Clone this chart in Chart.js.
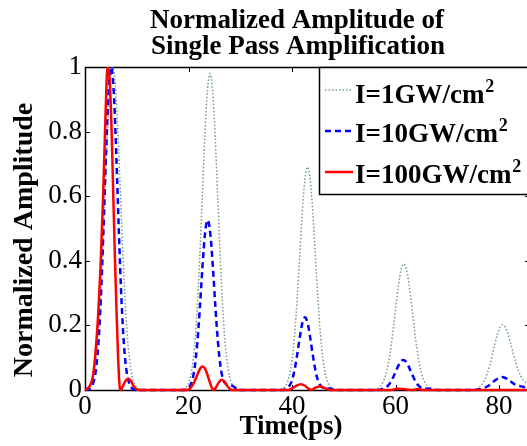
<!DOCTYPE html>
<html><head><meta charset="utf-8">
<script src="https://cdn.jsdelivr.net/npm/chart.js@4/dist/chart.umd.min.js"></script>
<style>html,body{margin:0;padding:0;background:#fff;}#wrap{width:527px;height:446px;position:relative;}</style>
</head><body><div id="wrap"><canvas id="c" width="527" height="446"></canvas></div>
<script>
const xTicks = [0, 20, 40, 60, 80];
const yTicks = [0, 0.2, 0.4, 0.6, 0.8, 1];
const xMax = 85.4;
const seriesNames = ['I=1GW/cm', 'I=10GW/cm', 'I=100GW/cm'];

const grayT = [0,0.5,
 0.85,1.35,1.85,2.35,2.85,3.35,3.85,4.35,4.85,5.35,5.85,6.35,6.85,7.35,7.85,8.35,8.85,9.35,9.85,
 10.5,11.5,18.5,19.15,
 19.65,20.15,20.65,21.15,21.65,22.15,22.65,23.15,23.65,24.15,24.65,25.15,25.65,26.15,26.65,27.15,27.65,28.15,28.65,
 29.3,30.2,37.5,38.0,
 38.5,39,39.5,40,40.5,41,41.5,42,42.5,43,43.5,44,44.5,45,45.5,46,46.5,47,47.5,
 48.2,49,55.3,55.6,
 56.1,56.6,57.1,57.6,58.1,58.6,59.1,59.6,60.1,60.6,61.1,61.6,62.1,62.6,63.1,63.6,64.1,64.6,65.1,65.6,66.1,66.6,67.1,
 67.8,74.5,75.2,
 75.7,76.2,76.7,77.2,77.7,78.2,78.7,79.2,79.7,80.2,80.7,81.2,81.7,82.2,82.7,83.2,83.7,84.2,84.7,85.4];
const grayY = [0,0.002,
 .011,.029,.066,.135,.249,.411,.607,.801,.946,1,.946,.801,.607,.411,.249,.135,.066,.029,.011,
 .003,0,0,.004,
 .011,.028,.065,.132,.244,.403,.595,.785,.927,.98,.927,.785,.595,.403,.244,.132,.065,.028,.011,
 .003,0,0,.003,
 .008,.020,.046,.093,.171,.283,.419,.553,.653,.69,.653,.553,.419,.283,.171,.093,.046,.020,.008,
 .002,0,0,.001,
 .002,.005,.012,.025,.047,.082,.132,.195,.264,.328,.374,.39,.374,.328,.264,.195,.132,.082,.047,.025,.012,.005,.002,
 0,0,.002,
 .004,.009,.017,.031,.050,.077,.109,.143,.173,.194,.202,.194,.175,.147,.116,.087,.062,.043,.030,.020];

const blueT = [0,0.5,
 1.05,1.55,2.05,2.55,3.05,3.55,4.05,4.55,5.05,5.55,6.05,6.55,7.05,7.55,8.05,8.55,9.05,
 9.6,10.5,19.0,
 19.7,20.2,20.7,21.2,21.7,22.2,22.7,23.2,23.7,24.2,24.7,25.2,25.7,26.2,26.7,27.2,27.7,
 28.2,28.7,29.2,29.7,30.3,38.0,
 38.5,39,39.5,40,40.5,41,41.5,42,42.5,43,43.5,44,44.5,45,45.5,46,46.5,
 47.0,47.6,48.3,49,56.3,
 57,57.5,58,58.5,59,59.5,60,60.5,61,61.5,62,62.5,63,63.5,64,64.5,65,65.5,66,
 66.6,67.2,67.8,68.5,75.0,
 75.6,76.1,76.6,77.1,77.6,78.1,78.6,79.1,79.6,80.1,80.6,81.1,81.6,82.1,82.6,83.1,83.6,84.1,84.6,85.4];
const blueY = [0,0.001,
 .006,.020,.056,.135,.278,.487,.726,.923,1,.923,.726,.487,.278,.135,.056,.020,.006,
 .001,0,0,
 .003,.011,.029,.071,.146,.256,.382,.486,.526,.486,.382,.256,.146,.071,.032,.019,.016,
 .015,.011,.005,.001,0,0,
 .001,.005,.013,.030,.063,.110,.163,.208,.225,.208,.163,.110,.063,.030,.014,.007,.005,
 .005,.004,.001,0,0,
 .001,.003,.006,.013,.023,.038,.056,.074,.088,.093,.088,.074,.056,.038,.023,.013,.007,.005,.004,
 .004,.003,.001,0,0,
 .001,.002,.003,.006,.010,.015,.022,.028,.034,.038,.040,.038,.034,.028,.022,.017,.014,.012,.010,.008];

const redT = [0,0.5,1.0,1.5,2.0,2.5,3.0,3.5,4.0,4.35,4.8,5.2,5.5,5.8,6.1,6.4,6.7,6.9,7.4,7.9,8.4,8.9,9.4,9.9,10.4,
 19.7,20.2,20.7,21.2,21.7,22.2,22.7,23.2,23.7,24.2,24.6,24.9,25.3,25.8,26.4,27.0,27.5,28.0,28.4,
 39.3,40,40.7,41.7,42.5,43.2,43.7,44.5,45.4,46.3,47.1,47.6,
 59,60.3,61.5,62.5,63.3,64.3,65.3,85.4];
const redY = [0,.005,.015,.04,.11,.22,.38,.60,.87,1.0,.95,.77,.58,.40,.24,.10,.01,0,.015,.03,.035,.027,.012,.003,0,
 0,.004,.013,.028,.047,.065,.073,.066,.045,.02,.004,0,.008,.022,.032,.025,.012,.003,0,
 0,.005,.012,.018,.013,.004,0,.007,.011,.006,.001,0,
 0,.004,.003,.001,0,.003,0,0];

function pts(T, Y) { return T.map((t, i) => ({x: t, y: Y[i]})); }

const SERIF = '"Liberation Serif", "Times New Roman", Times, serif';
const CLIP = {left: 1, top: 0, right: 0, bottom: 3};

const frame = {
  id: 'frame',
  beforeDatasetsDraw(chart) {
    const ctx = chart.ctx;
    const a = chart.chartArea;
    const xs = chart.scales.x, ys = chart.scales.y;
    ctx.save();
    ctx.strokeStyle = '#000';
    ctx.lineWidth = 1.5;
    ctx.beginPath();
    ctx.moveTo(a.right + 5, a.top + 0.5); ctx.lineTo(a.left + 0.5, a.top + 0.5);
    ctx.lineTo(a.left + 0.5, a.bottom + 0.5); ctx.lineTo(a.right + 5, a.bottom + 0.5);
    ctx.stroke();
    ctx.lineWidth = 1;
    ctx.beginPath();
    xTicks.forEach(v => {
      const px = Math.round(xs.getPixelForValue(v)) + 0.5;
      ctx.moveTo(px, a.bottom); ctx.lineTo(px, a.bottom - 5);
      ctx.moveTo(px, a.top); ctx.lineTo(px, a.top + 5);
    });
    yTicks.forEach(v => {
      const py = Math.round(ys.getPixelForValue(v)) + 0.5;
      ctx.moveTo(a.left, py); ctx.lineTo(a.left + 5, py);
      ctx.moveTo(a.right + 3, py); ctx.lineTo(a.right - 2, py);
    });
    ctx.stroke();
    ctx.restore();
  }
};

const decor = {
  id: 'decor',
  afterDraw(chart) {
    const ctx = chart.ctx;
    ctx.save();
    ctx.fillStyle = '#000';
    ctx.font = 'bold 27px ' + SERIF;
    ctx.textAlign = 'center';
    ctx.textBaseline = 'alphabetic';
    ctx.fillText('Normalized Amplitude of', 297, 28);
    ctx.fillText('Single Pass Amplification', 298, 54);
    ctx.fillText('Time(ps)', 291, 434);
    ctx.save();
    ctx.translate(32, 240);
    ctx.rotate(-Math.PI / 2);
    ctx.font = 'bold 28px ' + SERIF;
    ctx.fillText('Normalized Amplitude', 0, 0);
    ctx.restore();

    // legend
    ctx.fillStyle = '#fff';
    ctx.fillRect(319, 67, 215, 127);
    ctx.strokeStyle = '#000';
    ctx.lineWidth = 1.5;
    ctx.strokeRect(319.5, 67.5, 215, 127);
    const rows = [
      {y: 90, base: 103, ds: chart.data.datasets[2], name: seriesNames[0]},
      {y: 131, base: 142, ds: chart.data.datasets[1], name: seriesNames[1]},
      {y: 172, base: 183, ds: chart.data.datasets[0], name: seriesNames[2]}
    ];
    rows.forEach(r => {
      ctx.save();
      ctx.strokeStyle = r.ds.borderColor;
      ctx.lineWidth = r.ds.borderWidth;
      ctx.setLineDash(r.ds.borderDash || []);
      ctx.beginPath(); ctx.moveTo(325, r.y); ctx.lineTo(353, r.y); ctx.stroke();
      ctx.restore();
      ctx.fillStyle = '#000';
      ctx.textAlign = 'left';
      ctx.font = 'bold 27px ' + SERIF;
      ctx.fillText(r.name, 355, r.base);
      const w = ctx.measureText(r.name).width;
      ctx.font = 'bold 18px ' + SERIF;
      ctx.fillText('2', 355 + w + 1, r.base - 11);
    });
    ctx.restore();
  }
};

new Chart(document.getElementById('c'), {
  type: 'line',
  data: {
    datasets: [
      {label: seriesNames[2], data: pts(redT, redY), borderColor: '#ff0000', borderWidth: 2.5, pointRadius: 0, fill: false, cubicInterpolationMode: 'monotone', clip: CLIP},
      {label: seriesNames[1], data: pts(blueT, blueY), borderColor: '#0000ff', borderWidth: 2.5, borderDash: [6, 4], pointRadius: 0, fill: false, cubicInterpolationMode: 'monotone', clip: CLIP},
      {label: seriesNames[0], data: pts(grayT, grayY), borderColor: 'rgb(120,155,140)', borderWidth: 1.5, borderDash: [1.5, 2], pointRadius: 0, fill: false, cubicInterpolationMode: 'monotone', clip: CLIP}
    ]
  },
  options: {
    responsive: false,
    animation: false,
    devicePixelRatio: 1,
    layout: {padding: {top: 67, right: 0, left: 0, bottom: 0}},
    plugins: {legend: {display: false}, title: {display: false}, tooltip: {enabled: false}},
    scales: {
      x: {
        type: 'linear', min: 0, max: xMax,
        afterBuildTicks: s => { s.ticks = xTicks.map(v => ({value: v})); },
        afterFit: s => { s.height = 56; },
        grid: {display: false, drawTicks: false},
        border: {display: false},
        ticks: {color: '#000', font: {family: SERIF, size: 27}, padding: 1, maxRotation: 0, autoSkip: false}
      },
      y: {
        type: 'linear', min: 0, max: 1,
        afterBuildTicks: s => { s.ticks = yTicks.map(v => ({value: v})); },
        afterFit: s => { s.width = 85; },
        grid: {display: false, drawTicks: false},
        border: {display: false},
        ticks: {color: '#000', font: {family: SERIF, size: 27}, padding: 3, callback: v => String(v)}
      }
    }
  },
  plugins: [frame, decor]
});
</script></body></html>
